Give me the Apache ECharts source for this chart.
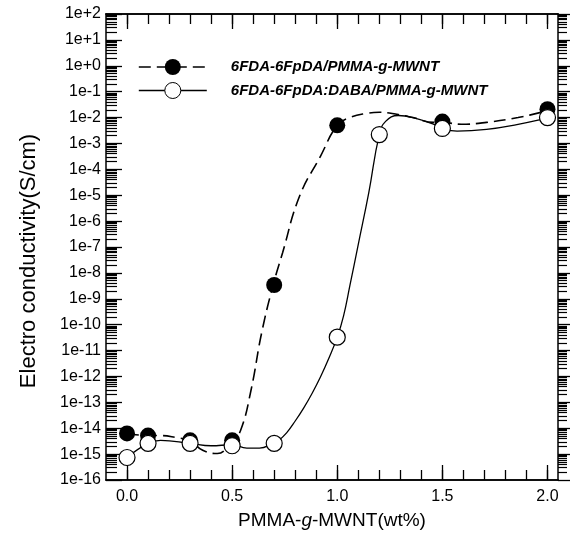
<!DOCTYPE html>
<html>
<head>
<meta charset="utf-8">
<script src="https://cdn.jsdelivr.net/npm/echarts@6/dist/echarts.min.js"></script>
<style>
html, body { margin: 0; padding: 0; background: #fff; }
#chart { width: 570px; height: 536px; }
</style>
</head>
<body>
<div id="chart"></div>
<script>
const nombre1 = '6FDA-6FpDA/PMMA-g-MWNT';
const nombre2 = '6FDA-6FpDA:DABA/PMMA-g-MWNT';

// puntos medidos
const xLleno = [0.0, 0.1, 0.3, 0.5, 0.7, 1.0, 1.5, 2.0];
const yLleno = [6.3e-15, 5.2e-15, 3.4e-15, 3.4e-15, 3.4e-9, 5.0e-3, 7.0e-3, 2.1e-2];
const xVacio = [0.0, 0.1, 0.3, 0.5, 0.7, 1.0, 1.2, 1.5, 2.0];
const yVacio = [7.4e-16, 2.6e-15, 2.6e-15, 2.1e-15, 2.6e-15, 3.3e-11, 2.2e-3, 3.8e-3, 1.0e-2];

// curvas de ajuste
const xAjuste1 = [0.0, 0.1, 0.16, 0.23, 0.3, 0.36, 0.43, 0.476, 0.5, 0.54, 0.59, 0.64, 0.695, 0.74, 0.82, 0.92, 1.0, 1.06, 1.14, 1.2, 1.29, 1.36, 1.46, 1.5, 1.59, 1.71, 1.86, 1.97, 2.0];
const yAjuste1 = [6.3e-15, 5.2e-15, 5.2e-15, 4.4e-15, 3.2e-15, 1.4e-15, 1.05e-15, 1.7e-15, 3.1e-15, 8.1e-15, 3.0e-13, 4.7e-11, 3.4e-9, 6.0e-8, 8.9e-6, 3.2e-4, 5.0e-3, 1.0e-2, 1.45e-2, 1.6e-2, 1.3e-2, 1.0e-2, 6.5e-3, 6.5e-3, 5.5e-3, 6.5e-3, 1.0e-2, 1.6e-2, 1.9e-2];
const xAjuste2 = [0.0, 0.1, 0.16, 0.3, 0.4, 0.5, 0.57, 0.63, 0.695, 0.72, 0.76, 0.80, 0.84, 0.88, 0.92, 0.96, 1.0, 1.03, 1.06, 1.1, 1.15, 1.2, 1.23, 1.29, 1.36, 1.46, 1.5, 1.57, 1.71, 1.86, 1.97, 2.0];
const yAjuste2 = [7.4e-16, 2.6e-15, 3.4e-15, 2.6e-15, 2.1e-15, 2.3e-15, 1.7e-15, 1.7e-15, 2.6e-15, 3.3e-15, 6.8e-15, 1.9e-14, 6.0e-14, 2.2e-13, 9.5e-13, 5.0e-12, 3.3e-11, 2.2e-10, 3.2e-9, 1.26e-7, 1.26e-5, 2.2e-3, 7.1e-3, 1.2e-2, 1.0e-2, 5.5e-3, 3.8e-3, 3.0e-3, 3.5e-3, 5.5e-3, 8.5e-3, 1.0e-2];

// marcas de los ejes
const xMarcas = [0, 0.5, 1.0, 1.5, 2.0];
const xMarcasMenores = [0, 0.1, 0.2, 0.3, 0.4, 0.5, 0.6, 0.7, 0.8, 0.9, 1.0, 1.1, 1.2, 1.3, 1.4, 1.5, 1.6, 1.7, 1.8, 1.9, 2.0];
const yDecadas = [-16, 2];

let yMarcasMenores = [];
for (let e = yDecadas[0]; e < yDecadas[1]; e++) {
    for (let k = 2; k <= 9; k++) yMarcasMenores.push(e + Math.log10(k));
}

const fuente = '"Liberation Sans", Arial, sans-serif';
const xMin = -0.1, xMax = 2.05;

function pares(xs, ys) {
    return xs.map((x, i) => [x, ys[i]]);
}

function ejeX(grid, pos, valores, largo, etiquetas) {
    return {
        type: 'value', gridIndex: grid, position: pos, min: xMin, max: xMax,
        axisLine: { show: true, onZero: false, lineStyle: { color: '#000', width: 1.5 } },
        axisTick: { show: true, inside: true, length: largo, customValues: valores, lineStyle: { color: '#000', width: 1.3 } },
        axisLabel: etiquetas ? {
            show: true, customValues: xMarcas, margin: 9, color: '#000', fontSize: 16, fontFamily: fuente,
            formatter: v => Number(v).toFixed(1)
        } : { show: false },
        splitLine: { show: false }
    };
}

let chartDom = document.getElementById('chart');
let myChart = echarts.init(chartDom);
let option = {
    animation: false,
    backgroundColor: '#fff',
    grid: [
        { left: 106, right: 12, top: 14, bottom: 56 },
        { left: 106, right: 12, top: 14, bottom: 56 }
    ],
    legend: {
        left: 133, top: 54, orient: 'vertical',
        itemWidth: 68, itemHeight: 20, itemGap: 7,
        selectedMode: false,
        textStyle: { fontFamily: fuente, fontSize: 15, fontWeight: 'bold', fontStyle: 'italic', color: '#000', padding: [0, 0, 0, 19] },
        data: [
            { name: nombre1, itemStyle: { color: '#000', borderWidth: 0, opacity: 1 }, lineStyle: { color: '#000', type: [12, 6], width: 1.6 } },
            { name: nombre2, itemStyle: { color: '#fff', borderColor: '#000', borderWidth: 1, opacity: 1 }, lineStyle: { color: '#000', type: 'solid', width: 1.3 } }
        ]
    },
    xAxis: [
        Object.assign(ejeX(0, 'bottom', xMarcas, 15, true), {
            name: 'PMMA-{i|g}-MWNT(wt%)', nameLocation: 'middle', nameGap: 31,
            nameTextStyle: { fontFamily: fuente, fontSize: 19, color: '#000',
                rich: { i: { fontFamily: fuente, fontSize: 19, fontStyle: 'italic', color: '#000' } } }
        }),
        ejeX(0, 'top', xMarcas, 15, false),
        ejeX(1, 'bottom', xMarcasMenores, 10, false),
        ejeX(1, 'top', xMarcasMenores, 10, false)
    ],
    yAxis: [
        {
            type: 'log', logBase: 10, gridIndex: 0, position: 'left', min: 1e-16, max: 1e2, interval: 1,
            name: 'Electro conductivity(S/cm)', nameLocation: 'middle', nameGap: 66,
            nameTextStyle: { fontFamily: fuente, fontSize: 22, color: '#000', padding: [0, 28, 0, 0] },
            axisLine: { show: true, onZero: false, lineStyle: { color: '#000', width: 1.5 } },
            axisTick: { show: true, inside: true, length: 16, lineStyle: { color: '#000', width: 1.3 } },
            axisLabel: {
                margin: 5, color: '#000', fontSize: 16, fontFamily: fuente,
                formatter: function(v) {
                    let e = Math.round(Math.log10(v));
                    return '1e' + (e >= 0 ? '+' : '-') + Math.abs(e);
                }
            },
            splitLine: { show: false }
        },
        {
            type: 'log', logBase: 10, gridIndex: 0, position: 'right', min: 1e-16, max: 1e2, interval: 1,
            axisLine: { show: true, onZero: false, lineStyle: { color: '#000', width: 1.5 } },
            axisTick: { show: true, inside: false, length: 12, lineStyle: { color: '#000', width: 1.3 } },
            axisLabel: { show: false },
            splitLine: { show: false }
        },
        {
            type: 'value', gridIndex: 1, position: 'left', min: yDecadas[0], max: yDecadas[1],
            axisLine: { show: false, onZero: false },
            axisTick: { show: true, inside: true, length: 11, customValues: yMarcasMenores, lineStyle: { color: '#000', width: 1.2 } },
            axisLabel: { show: false },
            splitLine: { show: false }
        },
        {
            type: 'value', gridIndex: 1, position: 'right', min: yDecadas[0], max: yDecadas[1],
            axisLine: { show: false, onZero: false },
            axisTick: { show: true, inside: false, length: 9, customValues: yMarcasMenores, lineStyle: { color: '#000', width: 1.2 } },
            axisLabel: { show: false },
            splitLine: { show: false }
        }
    ],
    series: [
        {
            name: nombre1, type: 'line', xAxisIndex: 0, yAxisIndex: 0,
            data: pares(xAjuste1, yAjuste1), smooth: 0.45, showSymbol: false, symbol: 'circle',
            lineStyle: { color: '#000', width: 1.6, type: [12, 6] },
            itemStyle: { color: '#000' }, silent: true, z: 2
        },
        {
            name: nombre2, type: 'line', xAxisIndex: 0, yAxisIndex: 0,
            data: pares(xAjuste2, yAjuste2), smooth: 0.45, showSymbol: false, symbol: 'circle',
            lineStyle: { color: '#000', width: 1.3 },
            itemStyle: { color: '#fff', borderColor: '#000', borderWidth: 1 }, silent: true, z: 2
        },
        {
            name: 'lleno', type: 'scatter', xAxisIndex: 0, yAxisIndex: 0,
            data: pares(xLleno, yLleno), symbol: 'circle', symbolSize: 16,
            itemStyle: { color: '#000', opacity: 1 }, silent: true, z: 3
        },
        {
            name: 'vacio', type: 'scatter', xAxisIndex: 0, yAxisIndex: 0,
            data: pares(xVacio, yVacio), symbol: 'circle', symbolSize: 16,
            itemStyle: { color: '#fff', borderColor: '#000', borderWidth: 1.2, opacity: 1 }, silent: true, z: 4
        }
    ]
};
option && myChart.setOption(option);
</script>
</body>
</html>
